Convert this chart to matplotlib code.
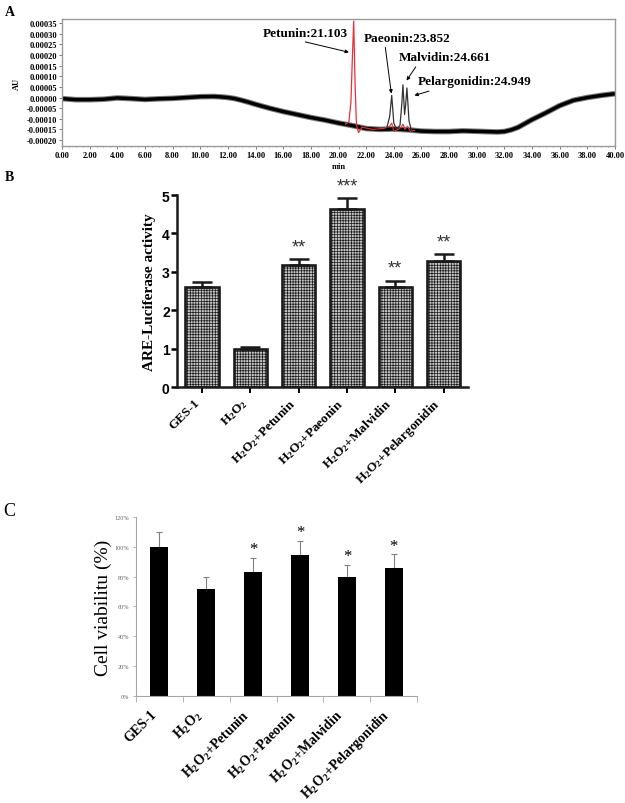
import numpy as np
import matplotlib
matplotlib.use("Agg")
import matplotlib.pyplot as plt
from matplotlib.ticker import MultipleLocator, FuncFormatter, FixedLocator

plt.rcParams["font.family"] = ["Liberation Serif", "DejaVu Serif"]
plt.rcParams["mathtext.fontset"] = "custom"
plt.rcParams["mathtext.rm"] = "Liberation Serif:bold"
plt.rcParams["mathtext.it"] = "Liberation Serif:bold"
plt.rcParams["mathtext.bf"] = "Liberation Serif:bold"
plt.rcParams["mathtext.default"] = "rm"
plt.rcParams["hatch.linewidth"] = 0.5

# ---- panel A: chromatogram (AU in units of 1e-5) ----
base_t = [0, 1, 2, 3, 4, 5, 6, 7, 8, 9, 10, 11, 11.5, 12, 12.5, 13, 13.5, 14, 15,
          16, 17, 18, 19, 20, 21, 22, 23, 24, 25, 26, 27, 28, 29, 30, 31, 31.5,
          32, 32.5, 33, 33.5, 34, 35, 36, 37, 38, 39, 40]
base_v = [-0.5, -1, -1, -0.8, -0.2, -0.5, -0.9, -0.6, -0.4, 0, 0.4, 0.5, 0.3, 0,
          -0.5, -1.3, -2.2, -3.2, -5, -6.6, -8, -9.4, -10.6, -12, -13.2, -14.6,
          -15, -14.8, -15.2, -15.8, -16, -16, -15.7, -15.9, -16.1, -16.2, -16,
          -15.2, -14, -12.2, -10.4, -7.2, -3.8, -1.3, 0, 1, 1.8]

petunin_t = [20.5, 20.75, 20.9, 21.0, 21.1, 21.2, 21.3, 21.45, 21.7]
petunin_v = [-12.5, -11.5, -2, 18, 36, 6, -13, -16.5, -14]

red_t = [21.7, 22.5, 23.3, 23.7, 23.85, 24.0, 24.3, 24.55, 24.66, 24.8, 25.0, 25.2, 25.5]
red_v = [-14, -15, -14.5, -13.5, -12, -16, -15, -14, -12.5, -15, -13.5, -16, -15.5]

peaks_t = [23.5, 23.7, 23.85, 24.0, 24.2, 24.45, 24.58, 24.66, 24.78, 24.85, 24.95, 25.1, 25.3]
peaks_v = [-14, -9, 1, -12, -15, -13, -3, 6, -8, -4, 4.5, -11, -16]

labels_a = ["Petunin:21.103", "Paeonin:23.852", "Malvidin:24.661", "Pelargonidin:24.949"]
label_pos = [(14.5, 30.5), (21.85, 28.0), (24.38, 19.1), (25.75, 7.7)]
arrow_from = [(17.4, 26.5), (23.36, 24.9), (25.7, 15.5), (26.74, 3.4)]
arrow_to = [(20.95, 21.0), (23.85, 0.6), (24.81, 6.9), (25.3, 0.6)]

# ---- panel B: ARE-luciferase ----
groups = ["GES-1", r"H$_2$O$_2$", r"H$_2$O$_2$+Petunin", r"H$_2$O$_2$+Paeonin",
          r"H$_2$O$_2$+Malvidin", r"H$_2$O$_2$+Pelargonidin"]
are_mean = [2.62, 1.00, 3.18, 4.63, 2.60, 3.29]
are_err = [0.11, 0.04, 0.15, 0.28, 0.17, 0.17]
are_stars = ["", "", "**", "***", "**", "**"]

# ---- panel C: cell viability ----
via_mean = [1.00, 0.72, 0.835, 0.945, 0.795, 0.86]
via_err = [0.10, 0.075, 0.09, 0.095, 0.085, 0.09]
via_stars = ["", "", "*", "*", "*", "*"]

fig = plt.figure(figsize=(6.25, 8.04), dpi=100)

# panel A
ax1 = fig.add_axes([0.0992, 0.8172, 0.8848, 0.158])
s = 1e-5
ax1.plot(base_t, np.array(base_v) * s, color="#7a7a7a", lw=4.0, solid_capstyle="butt")
ax1.plot(base_t, np.array(base_v) * s, color="black", lw=2.5, solid_capstyle="butt")
ax1.plot(red_t, np.array(red_v) * s, color="#e8303a", lw=0.8)
ax1.plot(petunin_t, np.array(petunin_v) * s, color="#e8303a", lw=0.9)
ax1.plot(peaks_t, np.array(peaks_v) * s, color="#333333", lw=0.9)
for lab, p, a, b in zip(labels_a, label_pos, arrow_from, arrow_to):
    ax1.text(p[0], p[1] * s, lab, fontsize=9.5, fontweight="bold", ha="left", va="center")
    ax1.annotate("", xy=(b[0], b[1] * s), xytext=(a[0], a[1] * s),
                 arrowprops=dict(arrowstyle="-|>", color="black", lw=0.7, mutation_scale=5))
ax1.set_xlim(0, 40)
ax1.set_ylim(-0.000228, 0.00037)
ax1.xaxis.set_major_locator(MultipleLocator(2))
ax1.xaxis.set_minor_locator(MultipleLocator(0.5))
ax1.yaxis.set_major_locator(FixedLocator([i * 5e-5 for i in range(-4, 8)]))
ax1.xaxis.set_major_formatter(FuncFormatter(lambda v, p: f"{v:.2f}"))
ax1.yaxis.set_major_formatter(FuncFormatter(lambda v, p: f"{v:.5f}".replace("-0.00000", "0.00000")))
ax1.tick_params(labelsize=6, length=2, width=0.6, color="#666666", pad=1.5)
ax1.tick_params(which="minor", length=1, width=0.5, color="#666666")
for lab in ax1.get_xticklabels() + ax1.get_yticklabels():
    lab.set_fontweight("bold")
for sp in ax1.spines.values():
    sp.set_color("#999999")
    sp.set_linewidth(1.0)
ax1.set_xlabel("min", fontsize=6, fontweight="bold", labelpad=2)
ax1.set_ylabel("AU", fontsize=6, fontweight="bold", labelpad=4)

# panel B
ax2 = fig.add_axes([0.2827, 0.517, 0.4666, 0.2392])
x = np.arange(len(groups))
ax2.bar(x, are_mean, width=0.69, color="#c4c4c4", edgecolor="#1a1a1a",
        linewidth=1.9, hatch="++++++", zorder=2)
ax2.errorbar(x, are_mean, yerr=[[0] * len(x), are_err], fmt="none", ecolor="#1a1a1a",
             elinewidth=1.8, capsize=7, capthick=1.8, zorder=3)
for xi, m, e, st in zip(x, are_mean, are_err, are_stars):
    if st:
        ax2.text(xi, m + e + 0.1, st, ha="center", va="bottom", fontsize=13,
                 family="Liberation Sans", color="#333333", clip_on=False)
ax2.set_xlim(-0.52, 5.51)
ax2.set_ylim(0, 5)
ax2.spines["top"].set_visible(False)
ax2.spines["right"].set_visible(False)
for sp in ["left", "bottom"]:
    ax2.spines[sp].set_linewidth(1.8)
    ax2.spines[sp].set_color("#1a1a1a")
ax2.set_xticks(x)
ax2.set_xticklabels(groups, rotation=45, ha="right", va="top", fontsize=9.5, fontweight="bold")
ax2.set_yticks(range(6))
ax2.tick_params(axis="y", labelsize=10, length=4, width=1.8, pad=1)
ax2.tick_params(axis="x", length=4, width=1.4, pad=2)
for lab in ax2.get_yticklabels():
    lab.set_family("Liberation Sans")
    lab.set_fontweight("bold")
ax2.set_ylabel("ARE-Luciferase activity", fontsize=11, fontweight="bold", labelpad=4)

# panel C
ax3 = fig.add_axes([0.2171, 0.1335, 0.4506, 0.2219])
ax3.bar(x, via_mean, width=0.39, color="black", zorder=2)
ax3.errorbar(x, via_mean, yerr=[[0] * len(x), via_err], fmt="none", ecolor="#808080",
             elinewidth=0.8, capsize=2, capthick=0.8, zorder=1)
for xi, m, e, st in zip(x, via_mean, via_err, via_stars):
    if st:
        ax3.text(xi, m + e + 0.005, st, ha="center", va="bottom", fontsize=12)
ax3.set_xlim(-0.5, 5.5)
ax3.set_ylim(0, 1.2)
ax3.spines["top"].set_visible(False)
ax3.spines["right"].set_visible(False)
for sp in ["left", "bottom"]:
    ax3.spines[sp].set_linewidth(0.8)
    ax3.spines[sp].set_color("#a6a6a6")
ax3.set_yticks([i * 0.2 for i in range(7)])
ax3.yaxis.set_major_formatter(FuncFormatter(lambda v, p: f"{v * 100:.0f}%"))
ax3.tick_params(axis="y", labelsize=4.5, labelcolor="#666666", length=2.5, width=0.6,
                color="#a6a6a6", pad=2)
ax3.set_xticks(x)
ax3.set_xticklabels(groups, rotation=45, ha="right", va="top", fontsize=10, fontweight="bold")
ax3.tick_params(axis="x", which="major", length=0, pad=8)
ax3.set_xticks(np.arange(-0.5, 6, 1), minor=True)
ax3.tick_params(axis="x", which="minor", length=4, width=0.6, color="#a6a6a6")
ax3.set_ylabel("Cell viabilitu (%)", fontsize=14, labelpad=2)

fig.text(0.008, 0.985, "A", fontsize=10, fontweight="bold", va="center")
fig.text(0.008, 0.779, "B", fontsize=10, fontweight="bold", va="center")
fig.text(0.005, 0.364, "C", fontsize=13, va="center")

fig.savefig("out.png", dpi=100)
